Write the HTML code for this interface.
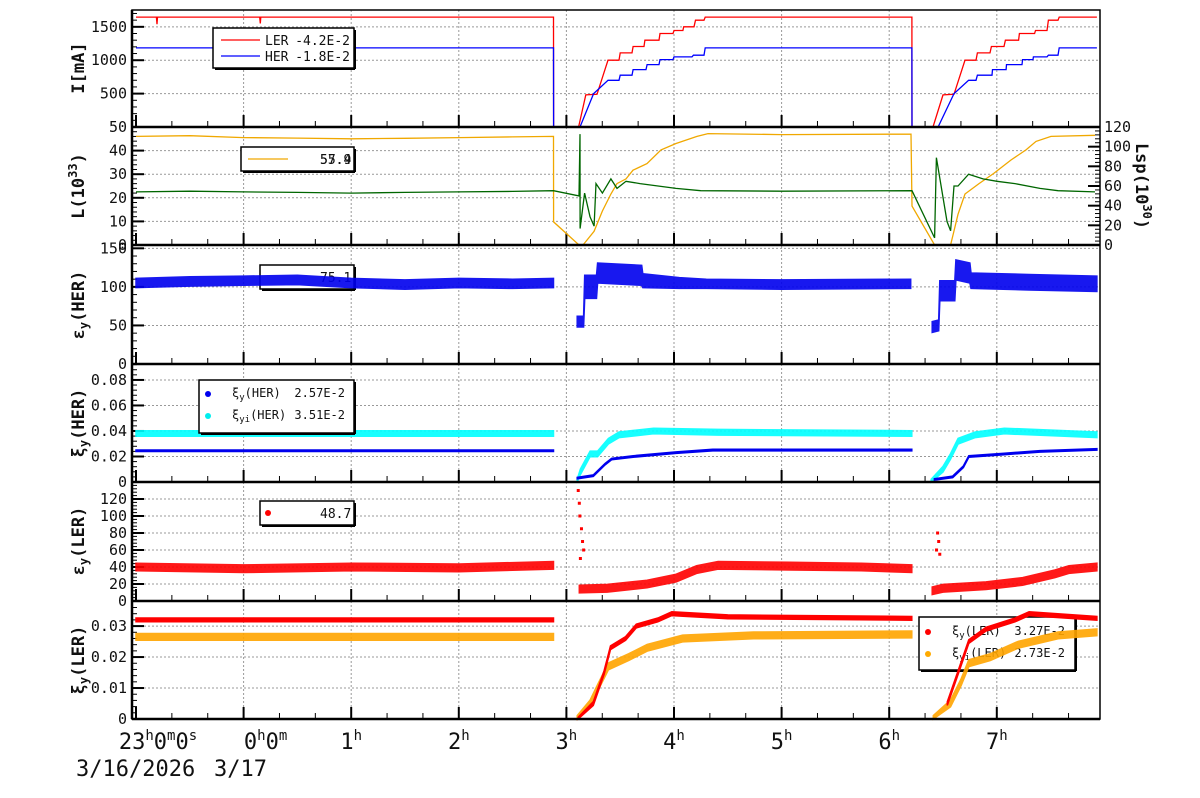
<!DOCTYPE html>
<html><head><meta charset="utf-8"><style>
html,body{margin:0;padding:0;background:#fff;}
svg{display:block;font-family:"DejaVu Sans Mono","Liberation Mono",monospace;}
</style></head><body>
<svg id="c" width="1200" height="798" viewBox="0 0 1200 798" xmlns="http://www.w3.org/2000/svg"></svg>
<script>
// ---- data (time in hours since 23:00 on 3/16) ----
const hourLabels = ["23","0","1","2","3","4","5","6","7"];
// Panel 1: currents
const lerCurT = [0,0.19,0.195,0.20,1.15,1.155,1.16,3.88,3.881,4.113,4.18,4.284,4.387,4.489,4.50,4.61,4.62,4.721,4.73,4.861,4.87,4.991,5.0,5.083,5.09,5.186,5.2,5.279,5.29,7.211,7.212,7.407,7.50,7.602,7.704,7.807,7.82,7.937,7.95,8.067,8.08,8.203,8.21,8.351,8.36,8.467,8.48,8.569,8.58,8.93];
const lerCurV = [1645,1645,1540,1645,1645,1550,1645,1645,0,0,480,490,1000,1000,1110,1110,1205,1205,1300,1300,1400,1400,1445,1445,1500,1500,1600,1600,1645,1645,0,0,480,490,1000,1000,1110,1110,1205,1205,1300,1300,1400,1400,1445,1445,1600,1600,1645,1645];
const herCurT = [0,3.88,3.881,4.126,4.253,4.387,4.489,4.50,4.61,4.62,4.74,4.75,4.861,4.87,4.991,5.0,5.167,5.18,5.279,5.29,7.211,7.212,7.454,7.602,7.738,7.807,7.82,7.955,7.96,8.086,8.09,8.234,8.24,8.336,8.34,8.467,8.48,8.569,8.58,8.93];
const herCurV = [1185,1185,0,0,500,700,700,775,775,860,860,935,935,1010,1010,1050,1050,1075,1075,1185,1185,0,0,500,700,700,775,775,860,860,935,935,1010,1010,1050,1050,1075,1075,1185,1185];
// Panel 2: luminosity
const lumOrT = [0,0.5,1,1.5,2,2.5,3,3.5,3.88,3.881,4.117,4.154,4.257,4.335,4.414,4.470,4.554,4.619,4.749,4.879,5.019,5.214,5.316,6.0,7.203,7.212,7.422,7.571,7.639,7.704,7.835,7.970,8.132,8.271,8.364,8.504,8.913];
const lumOrV = [46,46.3,45.5,45.3,45,45.2,45.5,45.8,46,9.8,0,0,5.8,14.4,21.6,26,28,31.7,34.5,40.3,43,46,47.2,46.8,47,16.5,0,0,13,21.6,26,30.3,36,40.3,43.9,46,46.5];
const lumGrT = [0,0.5,1,1.5,2,2.5,3,3.5,3.88,4.117,4.126,4.127,4.169,4.219,4.257,4.275,4.335,4.414,4.470,4.554,4.684,4.851,5.019,5.248,6.0,7.212,7.422,7.439,7.537,7.571,7.602,7.639,7.738,7.872,8.002,8.169,8.401,8.569,8.913];
const lumGrV = [22.5,22.8,22.5,22.3,22,22.3,22.5,22.7,23,20.8,47,7,22,12,8,26,22,28,24,27,26,25,24,23,22.8,23,3,37,10,6,25,25,30,28,27,26,24,23,22.5];
// Panel 3: emittance HER (band: mid, spread)
const eHerT = [0,0.5,1.0,1.5,2.0,2.5,3.0,3.5,3.88,null,4.10,4.16,4.17,4.28,4.29,4.70,4.71,5.05,5.3,6.0,7.2,null,7.40,7.46,7.47,7.61,7.62,7.75,7.76,8.3,8.93];
const eHerV = [105,107,108,109,105,103,105,104,105,null,55,55,100,100,118,115,108,105,104,103,104,null,48,50,95,95,122,118,108,106,104];
const eHerS = [6,6,6,6,6,6,6,6,6,null,7,7,15,15,13,13,9,7,6,6,6,null,7,7,13,13,13,13,10,10,10];
// Panel 4: beam-beam HER
const xiHerT = [0,3.88,null,4.10,4.25,4.36,4.42,4.62,5.02,5.36,7.21,null,7.42,7.59,7.69,7.74,8.07,8.40,8.93];
const xiHerV = [0.0245,0.0245,null,0.003,0.005,0.014,0.018,0.020,0.023,0.025,0.025,null,0.002,0.004,0.012,0.020,0.022,0.024,0.0255];
const xiiHerT = [0,3.88,null,4.10,4.13,4.22,4.29,4.39,4.49,4.81,5.41,7.21,null,7.39,7.50,7.57,7.64,7.80,8.07,8.93];
const xiiHerV = [0.038,0.038,null,0.0,0.008,0.022,0.022,0.032,0.037,0.040,0.039,0.038,null,0.0,0.010,0.020,0.032,0.037,0.040,0.037];
// Panel 5: emittance LER
const eLerT = [0,1,2,3,3.88,null,4.12,4.38,4.75,5.02,5.21,5.41,6.08,6.74,7.21,null,7.40,7.50,7.90,8.24,8.54,8.67,8.93];
const eLerV = [40,38,40,39,42,null,14,15,20,27,37,42,41,40,38,null,12,15,18,23,32,37,40];
const eLerOutT = [4.11,4.12,4.125,4.13,4.14,4.15,4.16,7.44,7.45,7.46,7.47];
const eLerOutV = [130,115,100,50,85,70,60,60,80,70,55];
// Panel 6: beam-beam LER
const xiLerT = [0,3.88,null,4.11,4.25,4.35,4.41,4.55,4.65,4.85,4.98,5.5,7.21,null,7.54,7.64,7.74,7.90,8.17,8.30,8.93];
const xiLerV = [0.032,0.032,null,0,0.005,0.015,0.023,0.026,0.030,0.032,0.034,0.033,0.0325,null,0.005,0.015,0.025,0.029,0.032,0.034,0.0325];
const xiiLerT = [0,3.88,null,4.10,4.22,4.29,4.39,4.58,4.75,5.08,5.74,7.21,null,7.41,7.57,7.67,7.74,7.94,8.20,8.57,8.93];
const xiiLerV = [0.0265,0.0265,null,0,0.005,0.010,0.017,0.020,0.023,0.026,0.027,0.0273,null,0,0.005,0.012,0.018,0.020,0.024,0.027,0.028];

const svg = document.getElementById('c');
const NS = 'http://www.w3.org/2000/svg';
function mk(tag, attrs, parent){const e=document.createElementNS(NS,tag);for(const k in attrs)e.setAttribute(k,attrs[k]);(parent||svg).appendChild(e);return e;}
const L=132,R=1100,X0=136,PXH=107.6;
const X=t=>X0+t*PXH;
const panels=[
 {top:10,bot:127,max:1752,ticks:[500,1000,1500],lab:['500','1000','1500'],minor:100},
 {top:127,bot:245,max:50,ticks:[0,10,20,30,40,50],lab:['0','10','20','30','40','50'],minor:2},
 {top:246,bot:364,max:153,ticks:[0,50,100,150],lab:['0','50','100','150'],minor:10},
 {top:364,bot:482,max:0.0925,ticks:[0,0.02,0.04,0.06,0.08],lab:['0','0.02','0.04','0.06','0.08'],minor:0.004},
 {top:482,bot:601,max:140,ticks:[0,20,40,60,80,100,120],lab:['0','20','40','60','80','100','120'],minor:4},
 {top:601,bot:719,max:0.0381,ticks:[0,0.01,0.02,0.03],lab:['0','0.01','0.02','0.03'],minor:0.002}
];
const Y=(p,v)=>p.bot-(v/p.max)*(p.bot-p.top);

panels.forEach((p,i)=>{
  const g=mk('g',{});
  
  
  for(let h=1;h<=8;h++){mk('line',{x1:X(h),x2:X(h),y1:p.top,y2:p.bot,stroke:'#999','stroke-dasharray':'2,2','stroke-width':1},g);}
  p.ticks.forEach(v=>{if(v>0){mk('line',{x1:L,x2:R,y1:Y(p,v),y2:Y(p,v),stroke:'#999','stroke-dasharray':'2,2','stroke-width':1},g);}});
  for(let v=0;v<=p.max;v+=p.minor){const yy=Y(p,v);mk('line',{x1:L,x2:L+5,y1:yy,y2:yy,stroke:'#000','stroke-width':1},g);}
  p.ticks.forEach((v,k)=>{const yy=Y(p,v);mk('line',{x1:L,x2:L+12,y1:yy,y2:yy,stroke:'#000','stroke-width':2},g);
    const t=mk('text',{x:127,y:yy+5,'text-anchor':'end','font-size':15,fill:'#111'},g);t.textContent=p.lab[k];
    });
  for(let m=0;m<=26;m++){const h=m/3;const xx=X(h);if(xx>R)break;const maj=(m%3===0);
    mk('line',{x1:xx,x2:xx,y1:p.bot,y2:p.bot-(maj?12:6),stroke:'#000','stroke-width':maj?2:1},g);}
});

function polyline(ts,vs,p,color,name,w){
  let d='';let pen=false;
  ts.forEach((t,k)=>{if(t===null){pen=false;return;}const px=X(t),py=Y(p,vs[k]);d+=(pen?'L':'M')+px.toFixed(1)+' '+py.toFixed(1);pen=true;});
  const e=mk('path',{d:d,fill:'none',stroke:color,'stroke-width':w||1.3});
  
  
  return e;
}
function band(ts,vs,ss,p,color,name,op){
  const g=mk('g',{'opacity':op||1});
  
  
  let seg=[];
  const flush=()=>{if(seg.length<2){seg=[];return;}
    const up=seg.map(s=>X(s[0]).toFixed(1)+','+Y(p,Math.min(p.max,s[1]+s[2])).toFixed(1));
    const lo=seg.slice().reverse().map(s=>X(s[0]).toFixed(1)+','+Y(p,Math.max(0,s[1]-s[2])).toFixed(1));
    mk('polygon',{points:up.concat(lo).join(' '),fill:color,stroke:color,'stroke-width':1.5},g);seg=[];};
  ts.forEach((t,k)=>{if(t===null){flush();return;}const s=Array.isArray(ss)?ss[k]:ss;seg.push([t,vs[k],s]);});
  flush();
  return g;
}
function legendBox(x,y,w,h,name){const r=mk('rect',{x:x,y:y,width:w,height:h,fill:'#fff',stroke:'#000','stroke-width':1.5});
  
  mk('line',{x1:x+w+1,y1:y+2,x2:x+w+1,y2:y+h+1,stroke:'#000','stroke-width':2});mk('line',{x1:x+2,y1:y+h+1,x2:x+w+1,y2:y+h+1,stroke:'#000','stroke-width':2});return r;}
function txt(x,y,s,size,name,anchor){const t=mk('text',{x:x,y:y,'font-size':size,'text-anchor':anchor||'start',fill:'#111'});t.textContent=s;
  return t;}
function rich(x,y,html,size,name){const t=mk('text',{x:x,y:y,'font-size':size,fill:'#111'});t.innerHTML=html;
  return t;}

const P=panels;
// Panel 1
polyline(lerCurT,lerCurV,P[0],'#ff0000','ler-current-line');
polyline(herCurT,herCurV,P[0],'#0000ff','her-current-line');
legendBox(213,28,141,40,'current-legend');
mk('line',{x1:221,x2:260,y1:40,y2:40,stroke:'#f00','stroke-width':1.3});
mk('line',{x1:221,x2:260,y1:56,y2:56,stroke:'#00f','stroke-width':1.3});
txt(265,45,'LER',13,'legend-ler-current');
txt(350,45,'-4.2E-2',13,'legend-ler-value','end');
txt(265,61,'HER',13,'legend-her-current');
txt(350,61,'-1.8E-2',13,'legend-her-value','end');
// Panel 2
polyline(lumOrT,lumOrV,P[1],'#f0a800','luminosity-specific-line');
polyline(lumGrT,lumGrV,P[1],'#006600','luminosity-line');
legendBox(241,147,113,24,'luminosity-legend');
mk('line',{x1:248,x2:288,y1:159,y2:159,stroke:'#f0a800','stroke-width':1.3});
txt(320,164,'55.9',13,'legend-luminosity-value');
txt(320,164,'57.4',13,'legend-lsp-value');
// Panel 3
legendBox(260,265,94,24,'emittance-her-legend');
txt(320,282,'75.1',13,'legend-emittance-her');
band(eHerT,eHerV,eHerS,P[2],'#0000ee','emittance-her-band',0.9);
// Panel 4
band(xiiHerT,xiiHerV,0.0022,P[3],'#00ffff','xi-yi-her-band',0.9);
band(xiHerT,xiHerV,0.0006,P[3],'#0000ee','xi-y-her-band');
legendBox(199,380,155,53,'xi-her-legend');
mk('circle',{cx:208,cy:394,r:3,fill:'#00e'});mk('circle',{cx:208,cy:416,r:3,fill:'#0ee'});
rich(232,397,'ξ<tspan dy="3" font-size="9">y</tspan><tspan dy="-3">(HER)</tspan>',12,'legend-xi-y-her');
txt(345,397,'2.57E-2',12,'legend-xi-y-her-value','end');
rich(232,419,'ξ<tspan dy="3" font-size="9">yi</tspan><tspan dy="-3">(HER)</tspan>',12,'legend-xi-yi-her');
txt(345,419,'3.51E-2',12,'legend-xi-yi-her-value','end');
// Panel 5
band(eLerT,eLerV,4.5,P[4],'#ff0000','emittance-ler-band',0.9);
eLerOutT.forEach((t,k)=>{const r=mk('rect',{x:X(t)-1.5,y:Y(P[4],eLerOutV[k])-1.5,width:3,height:3,fill:'#f00'});
  
  });
legendBox(260,501,94,24,'emittance-ler-legend');
mk('circle',{cx:268,cy:513,r:3,fill:'#f00'});
txt(320,518,'48.7',13,'legend-emittance-ler');
// Panel 6
legendBox(919,617,156,53,'xi-ler-legend');
mk('circle',{cx:928,cy:632,r:3,fill:'#f00'});mk('circle',{cx:928,cy:654,r:3,fill:'#fa0'});
rich(952,635,'ξ<tspan dy="3" font-size="9">y</tspan><tspan dy="-3">(LER)</tspan>',12,'legend-xi-y-ler');
txt(1065,635,'3.27E-2',12,'legend-xi-y-ler-value','end');
rich(952,657,'ξ<tspan dy="3" font-size="9">yi</tspan><tspan dy="-3">(LER)</tspan>',12,'legend-xi-yi-ler');
txt(1065,657,'2.73E-2',12,'legend-xi-yi-ler-value','end');
band(xiiLerT,xiiLerV,0.0011,P[5],'#ffa500','xi-yi-ler-band',0.9);
band(xiLerT,xiLerV,0.0006,P[5],'#ff0000','xi-y-ler-band');

// frame & separators
mk('rect',{x:L,y:10,width:R-L,height:709,fill:'none',stroke:'#000','stroke-width':1.5});
[127,245,364,482,601,719].forEach(y=>mk('line',{x1:L,x2:R,y1:y,y2:y,stroke:'#000','stroke-width':2.5}));
mk('line',{x1:L,x2:L,y1:10,y2:719,stroke:'#000','stroke-width':2.5});

// right axis panel 2
const lspTicks=[0,20,40,60,80,100,120];
lspTicks.forEach(v=>{const yy=245-v/120*118;mk('line',{x1:R-12,x2:R,y1:yy,y2:yy,stroke:'#000','stroke-width':2});
  txt(1104,yy+5,String(v),15,'right-tick-label');});
for(let v=0;v<=120;v+=4){const yy=245-v/120*118;mk('line',{x1:R-5,x2:R,y1:yy,y2:yy,stroke:'#000','stroke-width':1});}
const rt=mk('text',{x:0,y:0,'font-size':17,'font-weight':'bold',transform:'translate(1136,186) rotate(90)','text-anchor':'middle',fill:'#111'});
rt.innerHTML='Lsp(10<tspan dy="-7" font-size="12">30</tspan><tspan dy="7">)</tspan>';


// y titles
const titles=[['I[mA]',68],['L(10<tspan dy="-7" font-size="12">33</tspan><tspan dy="7">)</tspan>',186],
 ['ε<tspan dy="4" font-size="12">y</tspan><tspan dy="-4">(HER)</tspan>',305],
 ['ξ<tspan dy="4" font-size="12">y</tspan><tspan dy="-4">(HER)</tspan>',423],
 ['ε<tspan dy="4" font-size="12">y</tspan><tspan dy="-4">(LER)</tspan>',541],
 ['ξ<tspan dy="4" font-size="12">y</tspan><tspan dy="-4">(LER)</tspan>',660]];
const tnames=['y-title-current','y-title-luminosity','y-title-emittance-her','y-title-xi-her','y-title-emittance-ler','y-title-xi-ler'];
titles.forEach((tt,i)=>{const t=mk('text',{x:0,y:0,'font-size':17,'font-weight':'bold',transform:'translate(84,'+tt[1]+') rotate(-90)','text-anchor':'middle',fill:'#111'});
  t.innerHTML=tt[0];});

// x labels
hourLabels.forEach((h,i)=>{const xx=X(i);const t=mk('text',{x:xx,y:749,'font-size':22,'text-anchor':'middle',fill:'#111'});
  if(i===0)t.innerHTML='23<tspan dy="-9" font-size="14">h</tspan><tspan dy="9">0</tspan><tspan dy="-9" font-size="14">m</tspan><tspan dy="9">0</tspan><tspan dy="-9" font-size="14">s</tspan>';
  else if(i===1)t.innerHTML='0<tspan dy="-9" font-size="14">h</tspan><tspan dy="9">0</tspan><tspan dy="-9" font-size="14">m</tspan>';
  else t.innerHTML=h+'<tspan dy="-9" font-size="14">h</tspan>';
  if(i<2)t.setAttribute('x',xx+22);
  });
txt(76,776,'3/16/2026',22,'x-date-label');
txt(214,776,'3/17',22,'x-date-label-next');
</script>
</body></html>
